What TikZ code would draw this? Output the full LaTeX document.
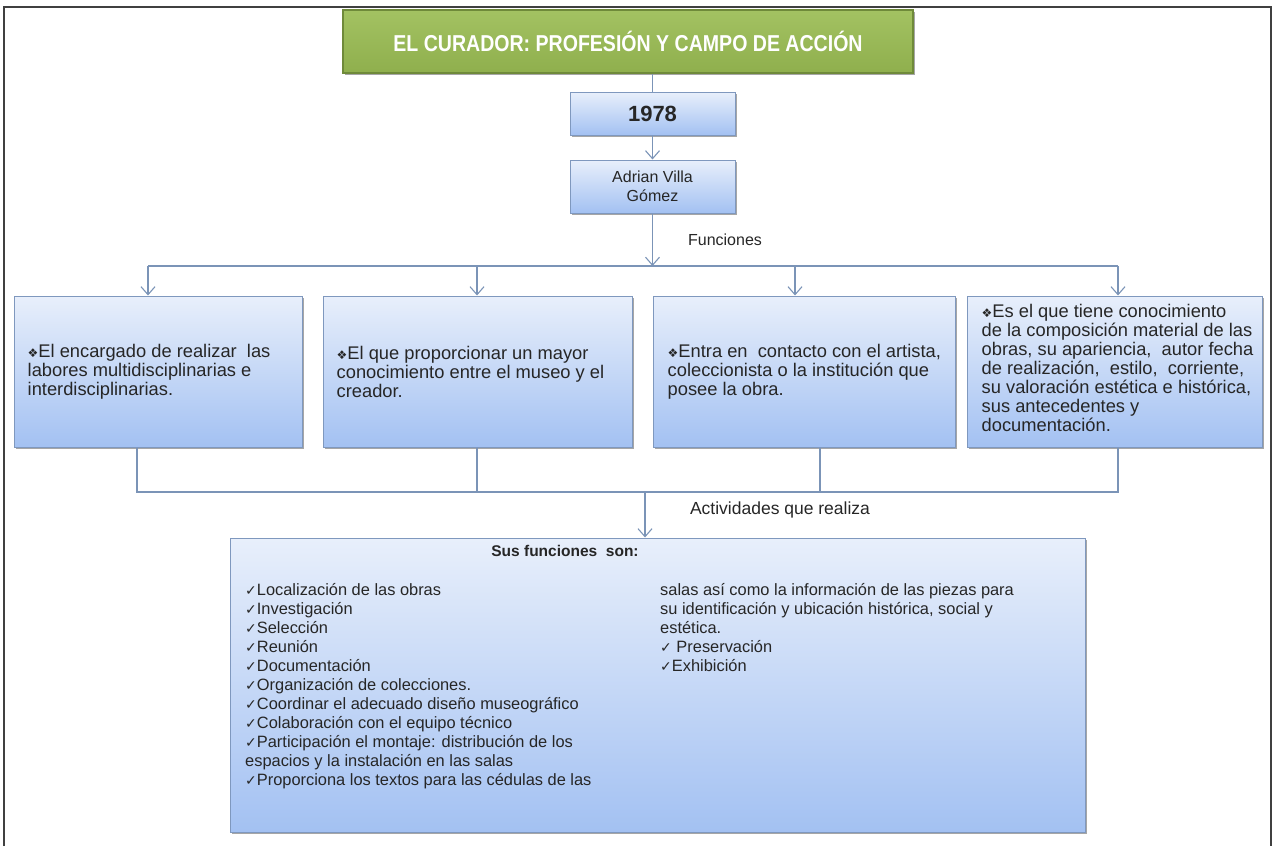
\documentclass[tikz,border=0pt]{standalone}
\usepackage{fontspec}
\setmainfont{Liberation Sans}
\newfontfamily\symf{DejaVu Sans}
\usetikzlibrary{arrows.meta,shadows}
\definecolor{conncol}{HTML}{7B94B7}
\definecolor{boxtop}{HTML}{E8EFFB}
\definecolor{boxbot}{HTML}{A3C1F2}
\definecolor{boxline}{HTML}{7F98BE}
\definecolor{greentop}{HTML}{A3C262}
\definecolor{greenbot}{HTML}{8FAF4D}
\definecolor{greenline}{HTML}{6F8A3A}
\definecolor{txt}{HTML}{262626}
\newcommand{\chk}{{\symf\fontsize{14}{14}\selectfont ✓}}
\newcommand{\dia}{{\symf\fontsize{12}{12}\selectfont ❖}}
\tikzset{
  bluebox/.style={draw=boxline, line width=1pt, top color=boxtop, bottom color=boxbot,
    drop shadow={shadow xshift=2pt, shadow yshift=-2pt, opacity=0.35, fill=black},
    inner sep=0pt},
  greenbox/.style={draw=greenline, line width=2.5pt, top color=greentop, bottom color=greenbot,
    drop shadow={shadow xshift=2pt, shadow yshift=-2pt, opacity=0.35, fill=black},
    inner sep=0pt},
  bodytxt/.style={font=\fontsize{16.4}{19}\selectfont, text=txt, align=left, inner sep=0pt},
  boxtxt/.style={font=\fontsize{18.3}{19}\selectfont, text=txt, align=left, inner sep=0pt},
  lbl/.style={text=txt, inner sep=0pt},
  conn/.style={draw=conncol, line width=1.2pt},
  arr/.style={conn, -{Straight Barb[length=8pt, width=14pt, line width=1.1pt]}},
}
\begin{document}
\begin{tikzpicture}[x=1pt, y=-1pt]
\useasboundingbox (0,0) rectangle (1273,846);
% frame
\draw[line width=2pt, color=black!75] (4,846) -- (4,7) -- (1271,7) -- (1271,846);

% title
\node[greenbox, minimum width=570, minimum height=63, font=\bfseries\fontsize{23}{25}\selectfont, text=white]
  (title) at (628,41.5) {\scalebox{0.85}[1]{EL CURADOR: PROFESIÓN Y CAMPO DE ACCIÓN}};

\node[bluebox, minimum width=165, minimum height=43, font=\bfseries\fontsize{22}{24}\selectfont, text=txt]
  (y1978) at (652.5,113.5) {1978};
\node[bluebox, minimum width=165, minimum height=53, font=\fontsize{16}{19}\selectfont, text=txt, align=center]
  (adrian) at (652.5,186.5) {Adrian Villa\\Gómez};

% four boxes
\node[bluebox, minimum width=288, minimum height=151] (b1) at (158,371.5) {};
\node[bluebox, minimum width=309, minimum height=151] (b2) at (477.5,371.5) {};
\node[bluebox, minimum width=302, minimum height=151] (b3) at (804,371.5) {};
\node[bluebox, minimum width=295, minimum height=151] (b4) at (1114.5,371.5) {};

\node[boxtxt, anchor=west] (b1t) at ([xshift=14pt]b1.west)
  {\dia El encargado de realizar \ las\\labores multidisciplinarias e\\interdisciplinarias.};
\node[boxtxt, anchor=west] (b2t) at ([xshift=14pt]b2.west)
  {\dia El que proporcionar un mayor\\conocimiento entre el museo y el\\creador.};
\node[boxtxt, anchor=west] (b3t) at ([xshift=15pt]b3.west)
  {\dia Entra en \ contacto con el artista,\\coleccionista o la institución que\\posee la obra.};
\node[boxtxt, anchor=west] (b4t) at ([xshift=15pt, yshift=4pt]b4.west)
  {\dia Es el que tiene conocimiento\\de la composición material de las\\obras, su apariencia, \ autor fecha\\de realización, \ estilo, \ corriente,\\su valoración estética e histórica,\\sus antecedentes y\\documentación.};

% bottom box
\node[bluebox, minimum width=855, minimum height=294] (fin) at (657.5,685) {};
\node[font=\bfseries\fontsize{15.5}{18}\selectfont, text=txt, inner sep=0pt] (head) at (565,551) {Sus funciones \ son:};
\node[bodytxt, anchor=north west] (left) at (245,583)
  {\chk Localización de las obras\\
   \chk Investigación\\
   \chk Selección\\
   \chk Reunión\\
   \chk Documentación\\
   \chk Organización de colecciones.\\
   \chk Coordinar el adecuado diseño museográfico\\
   \chk Colaboración con el equipo técnico\\
   \chk Participación el montaje: distribución de los\\
   espacios y la instalación en las salas\\
   \chk Proporciona los textos para las cédulas de las};
\node[bodytxt, anchor=north west] (right) at (660,583)
  {salas así como la información de las piezas para\\
   su identificación y ubicación histórica, social y\\
   estética.\\
   \chk\ Preservación\\
   \chk Exhibición};

% labels
\node[lbl, font=\fontsize{16}{19}\selectfont] (funl) at (725,240) {Funciones};
\node[lbl, font=\fontsize{17.5}{19}\selectfont] (actl) at (780,510) {Actividades que realiza};

% connectors
\coordinate (busc) at (652.5,266);
\coordinate (t1) at (148,266);
\coordinate (t2) at (477,266);
\coordinate (t3) at (795,266);
\coordinate (t4) at (1118,266);
\coordinate (s1) at (137,492);
\coordinate (s2) at (477,492);
\coordinate (s3) at (820,492);
\coordinate (s4) at (1118,492);
\coordinate (sc) at (645,492);

\draw[conn] (y1978.north |- title.south) -- (y1978.north);
\draw[arr] (y1978.south) -- (adrian.north);
\draw[arr] (adrian.south) -- (busc);
\draw[conn] (t1) -- (t4);
\draw[arr] (t1) -- (t1 |- b1.north);
\draw[arr] (t2) -- (t2 |- b2.north);
\draw[arr] (t3) -- (t3 |- b3.north);
\draw[arr] (t4) -- (t4 |- b4.north);

\draw[conn] (s1 |- b1.south) -- (s1) -- (s4) -- (s4 |- b4.south);
\draw[conn] (s2 |- b2.south) -- (s2);
\draw[conn] (s3 |- b3.south) -- (s3);
\draw[arr] (sc) -- (sc |- fin.north);
\end{tikzpicture}
\end{document}
